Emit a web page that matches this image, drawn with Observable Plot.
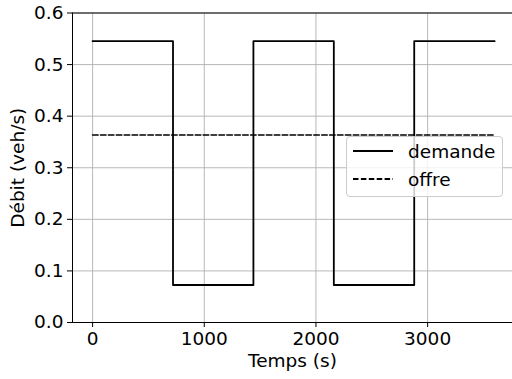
<!DOCTYPE html>
<html><head><meta charset="utf-8">
<script src="https://cdn.jsdelivr.net/npm/d3@7"></script>
<script src="https://cdn.jsdelivr.net/npm/@observablehq/plot@0.6"></script>
<style>
body{margin:0;background:#fff}
#wrap{position:relative;width:512px;height:379px;font-family:"DejaVu Sans";overflow:hidden}
#legend{position:absolute;left:346px;top:136px;width:157px;height:61px;background:rgba(255,255,255,0.8);border:1px solid #cccccc;border-radius:4px;box-sizing:border-box}
.row{position:absolute;left:6px;height:20px;display:flex;align-items:center;font-size:18.5px;color:#000}
.row span{margin-left:15px}
</style>
</head><body><div id="wrap"></div>
<script>
const times = [0, 720, 1440, 2160, 2880, 3600];
const demande = [0.5454, 0.0727, 0.5454, 0.0727, 0.5454, 0.5454];
const offreTimes = [0, 3600];
const offre = [0.3636, 0.3636];
const xTicks = [0, 1000, 2000, 3000];
const yTicks = [0, 0.1, 0.2, 0.3, 0.4, 0.5, 0.6];
const seriesNames = ["demande", "offre"];
const xLabel = "Temps (s)";
const yLabel = "Débit (veh/s)";

const demData = times.map((t, i) => ({t, v: demande[i]}));
const offData = offreTimes.map((t, i) => ({t, v: offre[i]}));

const chart = Plot.plot({
  width: 512, height: 379,
  marginLeft: 72, marginRight: 0, marginTop: 12.5, marginBottom: 57,
  style: {fontFamily: "DejaVu Sans", fontSize: "18.5px", color: "#000", background: "#fff"},
  x: {domain: [-180, 3760]},
  y: {domain: [0, 0.6]},
  marks: [
    Plot.gridX(xTicks, {stroke: "#b0b0b0", strokeOpacity: 1, strokeWidth: 0.9}),
    Plot.gridY(yTicks, {stroke: "#b0b0b0", strokeOpacity: 1, strokeWidth: 0.9}),
    Plot.line(offData, {x: "t", y: "v", stroke: "#000", strokeWidth: 1.6, strokeDasharray: "5.5,2.4"}),
    Plot.line(demData, {x: "t", y: "v", curve: "step-after", stroke: "#000", strokeWidth: 1.8}),
    Plot.ruleY([0, 0.6], {stroke: "#000", strokeWidth: 1}),
    Plot.ruleX([-180], {stroke: "#000", strokeWidth: 1}),
    Plot.axisX(xTicks, {tickSize: 5, tickPadding: 4, label: xLabel, labelAnchor: "center", labelArrow: "none", labelOffset: 44, tickFormat: d => String(d)}),
    Plot.axisY(yTicks, {tickSize: 5, tickPadding: 4, label: yLabel, labelAnchor: "center", labelArrow: "none", labelOffset: 62, tickFormat: d => d.toFixed(1)})
  ]
});
const wrap = document.getElementById("wrap");
wrap.appendChild(chart);

const legend = document.createElement("div");
legend.id = "legend";
const dashes = [null, "5.5,2.4"];
seriesNames.forEach((name, i) => {
  const row = document.createElement("div");
  row.className = "row";
  row.style.top = (i === 0 ? 4 : 32) + "px";
  row.innerHTML = `<svg width="40" height="4"><line x1="0" x2="40" y1="2" y2="2" stroke="#000" stroke-width="1.8" ${dashes[i] ? `stroke-dasharray="${dashes[i]}"` : ""}/></svg><span>${name}</span>`;
  legend.appendChild(row);
});
wrap.appendChild(legend);
</script>
</body></html>
